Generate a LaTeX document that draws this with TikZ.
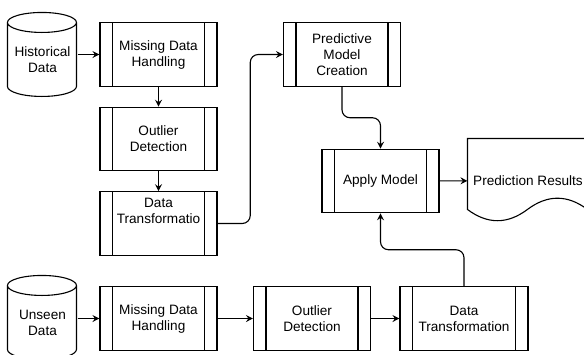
\documentclass[tikz,border=0pt]{standalone}
\usepackage{fontspec}
\setmainfont{Liberation Sans}
\usetikzlibrary{arrows.meta,calc}

\begin{document}
\begin{tikzpicture}[x=1pt, y=-1pt, line width=1.1pt,
    every node/.style={font=\fontsize{13.6}{16}\selectfont, align=center},
    procbox/.style={draw, minimum width=117pt, minimum height=63.5pt, inner sep=0pt,
      path picture={\draw ([xshift=12.5pt]path picture bounding box.north west) -- ([xshift=12.5pt]path picture bounding box.south west)
        ([xshift=-12.5pt]path picture bounding box.north east) -- ([xshift=-12.5pt]path picture bounding box.south east);}},
    storebox/.style={minimum width=69pt, minimum height=74pt, inner sep=0pt},
    flow/.style={-{Stealth[length=7pt, width=7pt, inset=2.5pt]}, rounded corners=8pt}]
    \path [use as bounding box] (0,0) rectangle (584,354);
    \clip (0,0) rectangle (584,354);

    \node [storebox] (hist) at (42.5,60) {Historical\\Data};
    \node [procbox] (mdh1) at (158.5,54.5) {Missing Data\\Handling};
    \node [procbox] (od1) at (158.5,139) {Outlier\\Detection};
    \node [procbox, label={[anchor=north, yshift=-3pt]north:Data\\Transformatio}] (dt1) at (158.5,223.5) {};
    \node [procbox] (pmc) at (342,54.5) {Predictive\\Model\\Creation};
    \node [procbox] (apply) at (380.5,181) {Apply Model};
    \node [minimum width=120pt, minimum height=83.5pt, inner sep=0pt] (pred) at (528,180.75) {Prediction Results};

    \node [storebox] (uns) at (42.5,323) {Unseen\\Data};
    \node [procbox] (mdh2) at (158.5,318.5) {Missing Data\\Handling};
    \node [procbox] (od2) at (312,318.5) {Outlier\\Detection};
    \node [procbox, minimum width=128pt] (dt2) at (464,318.5) {Data\\Transformation};

    \foreach \s in {hist,uns}
      \draw [shift={(\s.north west)}] (0,0) -- (0,64) arc [start angle=180, end angle=0, x radius=34.5, y radius=10] -- (69,0)
        (34.5,0) ellipse [x radius=34.5, y radius=10];
    \draw [shift={(pred.north west)}] (0,71) -- (0,0) -- (120,0) -- (120,71) .. controls (100,56) and (80,56) .. (60,71)
      .. controls (40,86) and (20,86) .. (0,71) -- cycle;

    \draw [flow] (hist.east |- mdh1.west) -- (mdh1.west);
    \draw [flow] (mdh1) -- (od1);
    \draw [flow] (od1) -- (dt1);
    \draw [flow] (dt1.east) -| ($(dt1.east)!0.5!(pmc.west)$) |- (pmc.west);
    \draw [flow] (pmc.south) |- ($(pmc.south)!0.5!(apply.north)$) -| (apply.north);
    \draw [flow] (apply) -- (pred);
    \draw [flow] (uns.east |- mdh2.west) -- (mdh2.west);
    \draw [flow] (mdh2) -- (od2);
    \draw [flow] (od2) -- (dt2);
    \draw [flow] (dt2.north) |- ($(dt2.north)!0.5!(apply.south)$) -| (apply.south);
\end{tikzpicture}
\end{document}
